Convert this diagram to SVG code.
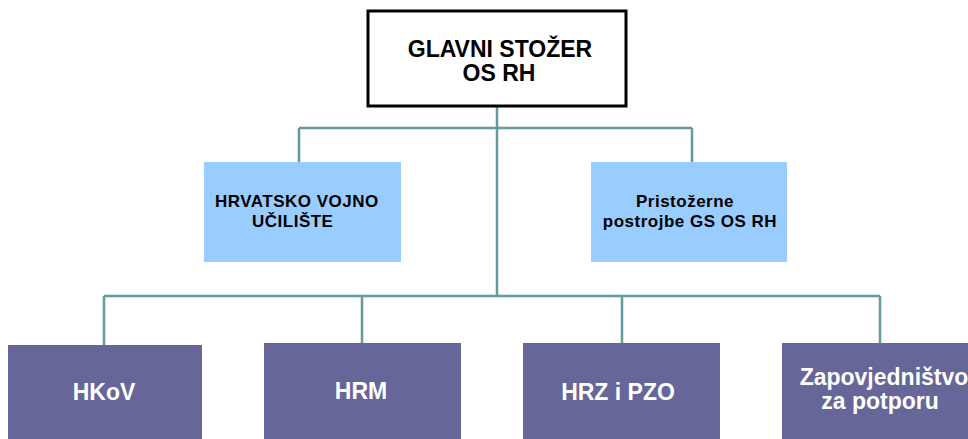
<svg xmlns="http://www.w3.org/2000/svg" width="968" height="439" viewBox="0 0 968 439">
<style>
.t{font-family:"Liberation Sans",Arial,sans-serif;font-weight:bold;text-anchor:middle}
.s{font-family:"Liberation Sans",Arial,sans-serif;font-weight:bold;font-size:17px;letter-spacing:0.5px}
.c{fill:none;stroke:#669999;stroke-width:2.5}
.lb{fill:#99CCFF}
.pb{fill:#666699}
</style>
<rect width="968" height="439" fill="#fff"/>
<g id="connectors">
<path class="c" d="M497 107V296M299 128H692M299 128V162M692 128V162M104 296H880M104 296V345M362 296V343M622 296V343M880 296V343"/>
</g>
<g id="gs">
<rect x="368" y="11" width="258" height="95" fill="#fff" stroke="#000" stroke-width="3"/>
<text class="t" x="500" y="57" font-size="23" fill="#000">GLAVNI STOŽER</text>
<text class="t" x="499" y="81" font-size="23" fill="#000">OS RH</text>
</g>
<g id="hvu">
<rect class="lb" x="204" y="162" width="197" height="100"/>
<text class="s" x="215" y="207">HRVATSKO VOJNO</text>
<text class="s" x="252" y="227">UČILIŠTE</text>
</g>
<g id="pgs">
<rect class="lb" x="591" y="162" width="196" height="100"/>
<text class="s" x="685" y="207" text-anchor="middle">Pristožerne</text>
<text class="s" x="690" y="227" text-anchor="middle">postrojbe GS OS RH</text>
</g>
<g id="hkov">
<rect class="pb" x="8" y="345" width="194" height="94"/>
<text class="t" x="104" y="400" font-size="23" fill="#fff">HKoV</text>
</g>
<g id="hrm">
<rect class="pb" x="264" y="343" width="197" height="96"/>
<text class="t" x="361" y="399" font-size="23" fill="#fff">HRM</text>
</g>
<g id="hrz">
<rect class="pb" x="523" y="343" width="197" height="96"/>
<text class="t" x="618" y="400" font-size="23" fill="#fff">HRZ i PZO</text>
</g>
<g id="zp">
<rect class="pb" x="782" y="343" width="200" height="96"/>
<text class="t" x="884" y="385" font-size="23" fill="#fff">Zapovjedništvo</text>
<text class="t" x="880" y="409" font-size="23" fill="#fff">za potporu</text>
</g>
</svg>
